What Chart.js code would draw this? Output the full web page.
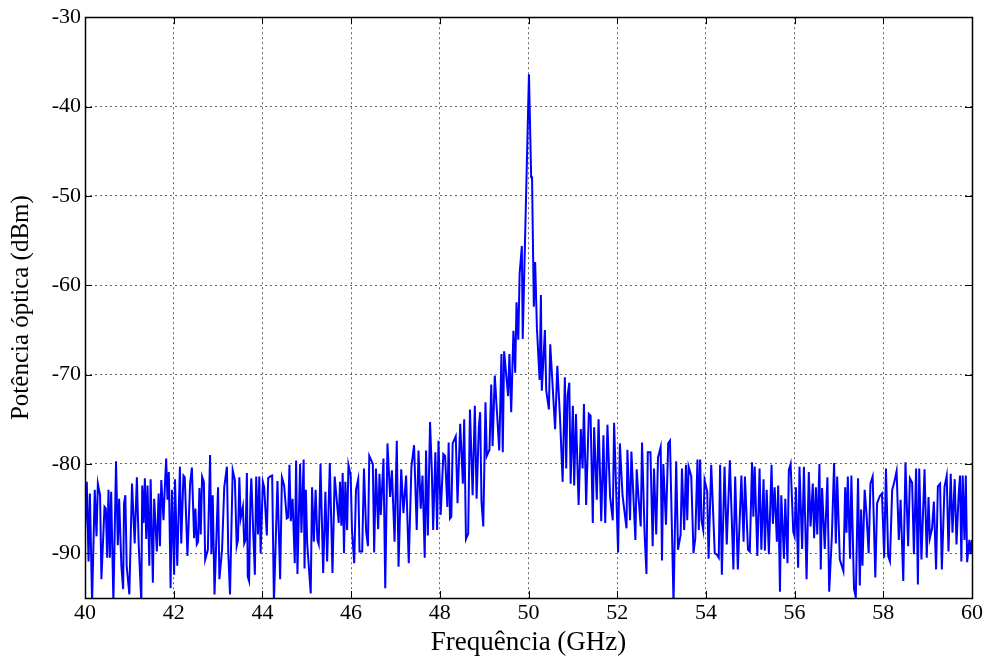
<!DOCTYPE html>
<html>
<head>
<meta charset="utf-8">
<script src="https://cdn.jsdelivr.net/npm/chart.js@4.4.1/dist/chart.umd.min.js"></script>
<style>
  html, body { margin: 0; padding: 0; background: #ffffff; }
  #wrap { width: 991px; height: 659px; position: relative; }
</style>
</head>
<body>
<div id="wrap"><canvas id="c" width="991" height="659"></canvas></div>
<script>
// ---- Data ----
const freqGHz = [
40.00,40.04,40.08,40.11,40.16,40.22,40.26,40.29,40.34,40.37,40.44,40.47,40.50,40.53,40.56,40.59,40.64,40.70,40.74,40.77,
40.82,40.86,40.88,40.91,40.94,41.00,41.06,41.12,41.17,41.21,41.27,41.29,41.32,41.35,41.38,41.41,41.45,41.48,41.53,41.56,
41.62,41.66,41.69,41.72,41.77,41.80,41.83,41.86,41.89,41.93,41.96,42.01,42.03,42.08,42.14,42.17,42.22,42.25,42.28,42.31,
42.37,42.41,42.46,42.49,42.52,42.55,42.58,42.61,42.64,42.68,42.71,42.77,42.82,42.85,42.88,42.92,43.00,43.03,43.09,43.14,
43.20,43.23,43.27,43.33,43.38,43.42,43.45,43.48,43.51,43.56,43.59,43.62,43.65,43.67,43.70,43.73,43.75,43.80,43.83,43.86,
43.90,43.93,43.96,44.01,
44.04,44.10,44.13,44.17,44.22,44.26,44.34,44.40,44.44,44.49,44.55,44.58,44.61,44.64,44.68,44.73,44.76,44.79,44.85,44.88,
44.91,44.93,44.95,44.98,45.01,45.09,45.12,45.16,45.20,45.24,45.27,45.31,45.37,45.42,45.46,45.52,45.58,45.63,45.67,45.72,
45.75,45.78,45.81,45.84,45.87,45.91,45.94,45.99,46.02,46.07,46.11,46.16,46.19,46.25,46.29,46.34,46.38,46.41,46.49,46.52,
46.56,46.61,46.64,46.67,46.73,46.77,46.82,46.88,46.92,46.98,47.03,47.07,47.13,47.18,47.24,47.30,47.36,47.42,47.48,47.52,
47.57,47.61,47.66,47.69,47.73,47.78,47.82,47.85,47.90,47.94,47.97,48.02,
48.08,48.12,48.17,48.20,48.23,48.26,48.29,48.36,48.40,48.46,48.52,48.55,48.59,48.64,48.68,48.74,48.79,48.83,48.88,48.91,
48.94,48.98,49.03,49.06,49.12,49.16,49.19,49.24,49.30,49.34,49.39,49.42,49.45,49.49,49.54,49.57,49.61,49.66,49.70,49.73,
49.77,49.80,49.85,49.87,50.01,50.06,50.08,50.12,50.15,50.19,50.25,50.28,50.30,50.37,50.40,50.46,50.49,50.55,50.60,50.65,
50.71,50.77,50.82,50.85,50.88,50.92,50.95,51.00,51.03,51.07,51.13,51.18,51.22,51.25,51.30,51.36,51.40,51.45,51.48,51.54,
51.58,51.64,51.69,51.73,51.78,51.84,51.90,51.93,52.02,52.06,
52.12,52.21,52.23,52.29,52.32,52.41,52.44,52.48,52.53,52.56,52.62,52.66,52.69,52.75,52.80,52.83,52.88,52.92,52.98,53.01,
53.04,53.10,53.15,53.19,53.27,53.33,53.37,53.43,53.46,53.51,53.55,53.58,53.61,53.67,53.72,53.76,53.81,53.84,53.87,53.90,
53.94,53.97,54.03,54.06,54.12,54.20,54.24,54.29,54.32,54.36,54.42,54.47,54.54,54.62,54.66,54.72,54.80,54.85,54.88,54.95,
54.99,55.04,55.07,55.10,55.16,55.21,55.25,55.30,55.33,55.37,55.42,55.48,55.51,55.55,55.60,55.63,55.67,55.70,55.76,55.79,
55.84,55.87,55.91,55.97,56.00,56.03,
56.08,56.11,56.17,56.21,56.27,56.32,56.36,56.41,56.44,56.48,56.51,56.56,56.59,56.62,56.68,56.74,56.78,56.84,56.89,56.93,
56.96,57.02,57.10,57.14,57.17,57.20,57.25,57.28,57.34,57.38,57.43,57.47,57.50,57.53,57.58,57.62,57.67,57.71,57.76,57.82,
57.86,57.92,57.97,58.02,58.06,58.11,58.15,58.20,58.24,58.30,58.35,58.39,58.45,58.50,58.56,58.60,58.65,58.69,58.74,58.78,
58.81,58.86,58.93,58.98,59.02,59.05,59.10,59.14,59.19,59.23,59.28,59.32,59.38,59.43,59.47,59.52,59.56,59.61,59.65,59.70,
59.73,59.76,59.79,59.83,59.86,59.89,59.94,59.97,60.00
];

const powerDbm = [
-87.6,-82.0,-90.9,-83.3,-95.5,-82.9,-88.1,-82.2,-83.5,-92.9,-84.8,-85.0,-90.5,-82.9,-90.5,-83.1,-95.5,-79.7,-89.1,-83.9,
-91.4,-94.0,-84.4,-83.5,-91.4,-94.6,-82.2,-88.9,-81.5,-88.9,-95.5,-82.4,-86.6,-81.6,-88.4,-82.4,-91.4,-81.7,-93.3,-83.9,
-89.8,-83.3,-89.2,-81.8,-86.3,-82.6,-79.4,-84.0,-80.9,-93.9,-82.9,-92.4,-81.7,-91.4,-80.3,-88.9,-81.3,-81.5,-85.9,-90.3,
-82.2,-80.4,-88.3,-85.0,-89.0,-88.7,-82.7,-87.9,-81.4,-82.0,-90.7,-89.6,-79.0,-90.1,-83.5,-94.6,-82.6,-92.9,-89.6,-82.6,
-80.3,-89.8,-94.6,-80.7,-81.8,-89.2,-88.5,-81.5,-86.1,-84.8,-88.9,-88.5,-81.0,-92.6,-93.1,-83.9,-81.6,-88.5,-92.4,-81.4,
-87.9,-81.4,-90.0,-82.0,
-82.6,-88.0,-81.6,-81.4,-81.3,-95.5,-81.9,-92.9,-81.5,-82.4,-86.1,-86.0,-80.1,-86.4,-83.9,-91.1,-79.6,-92.3,-80.0,-87.7,
-82.9,-79.5,-91.7,-82.9,-88.9,-94.5,-82.6,-88.7,-82.9,-88.5,-89.0,-80.0,-92.2,-83.1,-90.9,-79.9,-92.2,-81.4,-83.7,-86.6,
-82.0,-86.9,-81.0,-90.0,-82.0,-87.4,-80.1,-81.3,-87.4,-91.1,-82.9,-81.7,-89.8,-89.8,-80.5,-87.6,-89.2,-79.1,-80.0,-89.9,
-80.5,-87.3,-81.1,-85.7,-79.4,-93.9,-77.7,-83.7,-80.7,-88.7,-77.4,-91.5,-80.6,-85.5,-81.3,-91.1,-80.3,-77.9,-87.4,-78.5,
-85.0,-81.3,-90.5,-78.5,-88.0,-75.3,-80.7,-87.4,-78.7,-87.4,-77.4,-85.7,
-78.9,-79.1,-84.8,-77.6,-86.1,-85.9,-77.7,-76.9,-84.4,-75.5,-82.2,-75.0,-88.4,-87.8,-73.9,-83.5,-73.5,-83.9,-75.9,-74.2,
-84.2,-87.0,-73.1,-79.1,-78.4,-71.1,-78.0,-70.1,-75.1,-78.5,-67.7,-78.7,-67.4,-69.6,-72.4,-67.7,-74.2,-65.1,-69.8,-61.9,
-66.1,-58.7,-55.6,-66.0,-36.4,-47.9,-47.9,-62.4,-57.4,-64.8,-70.6,-61.1,-71.8,-65.0,-71.8,-73.9,-66.6,-71.8,-76.1,-69.0,
-74.8,-82.0,-70.3,-80.5,-72.4,-70.9,-82.2,-73.5,-82.4,-74.4,-84.6,-76.1,-80.5,-73.3,-84.6,-74.4,-74.6,-86.6,-75.9,-84.0,
-75.0,-86.4,-76.8,-86.6,-75.6,-83.7,-86.3,-75.4,-89.9,-77.7,
-83.5,-87.2,-78.4,-86.3,-78.6,-88.5,-80.6,-83.7,-87.0,-77.6,-88.1,-92.3,-78.7,-78.7,-89.2,-80.5,-87.9,-79.3,-78.1,-90.8,
-80.0,-86.8,-77.7,-77.4,-95.5,-79.7,-89.6,-87.9,-80.5,-87.4,-80.1,-86.3,-80.3,-81.4,-90.0,-88.3,-79.5,-87.4,-79.5,-86.3,
-87.4,-81.8,-83.1,-90.6,-80.1,-90.0,-90.1,-90.5,-80.1,-92.4,-80.3,-89.0,-79.6,-91.8,-81.4,-91.8,-81.3,-88.7,-81.4,-89.6,
-89.8,-79.8,-85.9,-80.3,-90.3,-80.5,-89.6,-81.7,-89.7,-82.9,-90.1,-80.1,-86.7,-82.6,-88.7,-82.4,-94.3,-83.5,-90.6,-83.9,
-91.1,-80.7,-80.0,-87.6,-88.1,-82.6,
-91.6,-80.3,-89.5,-80.3,-92.9,-80.9,-87.0,-82.2,-88.3,-82.6,-87.9,-80.0,-91.8,-82.7,-89.5,-81.5,-94.3,-88.1,-79.9,-88.9,
-81.4,-90.7,-92.0,-82.6,-87.7,-81.4,-90.6,-81.3,-94.0,-94.9,-81.6,-93.6,-85.1,-91.4,-82.9,-85.5,-90.0,-82.2,-81.4,-92.7,
-84.4,-83.6,-83.3,-90.5,-80.5,-90.3,-90.9,-82.9,-82.2,-80.8,-88.5,-84.0,-93.1,-79.8,-89.2,-81.6,-82.1,-90.1,-80.5,-93.5,
-80.5,-90.7,-80.6,-90.5,-83.7,-88.3,-87.2,-84.2,-91.8,-82.5,-82.2,-91.8,-82.6,-81.3,-89.8,-81.1,-87.7,-81.7,-89.0,-83.3,
-81.3,-90.9,-81.3,-88.5,-81.3,-91.0,-88.5,-90.1,-88.5
];

const xTitle = 'Frequência (GHz)';
const yTitle = 'Potência óptica (dBm)';
const xRange = [40, 60];
const yRange = [-95, -30];
const xStep = 2;
const yStep = 10;

const points = freqGHz.map((f, i) => ({ x: f, y: powerDbm[i] }));

const FONT = "'Liberation Serif', 'Times New Roman', serif";

const framePlugin = {
  id: 'frame',
  afterDraw(chart) {
    const { ctx, chartArea: a, scales } = chart;
    const xs = scales.x, ys = scales.y;
    const L = 7;
    ctx.save();
    ctx.setLineDash([]);
    ctx.strokeStyle = '#000';
    ctx.lineWidth = 1;
    ctx.beginPath();
    xs.ticks.forEach(t => {
      const p = Math.round(xs.getPixelForValue(t.value)) + 0.5;
      ctx.moveTo(p, a.bottom); ctx.lineTo(p, a.bottom - L);
      ctx.moveTo(p, a.top); ctx.lineTo(p, a.top + L);
    });
    ys.ticks.forEach(t => {
      const p = Math.round(ys.getPixelForValue(t.value)) + 0.5;
      ctx.moveTo(a.left, p); ctx.lineTo(a.left + L, p);
      ctx.moveTo(a.right, p); ctx.lineTo(a.right - L, p);
    });
    ctx.stroke();
    ctx.lineWidth = 1.5;
    ctx.strokeRect(Math.round(a.left) + 0.5, Math.round(a.top) + 0.5,
                   Math.round(a.right - a.left), Math.round(a.bottom - a.top));
    ctx.restore();
  }
};

new Chart(document.getElementById('c'), {
  type: 'line',
  data: {
    datasets: [{
      data: points,
      borderColor: '#0000ff',
      borderWidth: 2,
      pointRadius: 0,
      tension: 0,
      fill: false
    }]
  },
  options: {
    responsive: false,
    animation: false,
    devicePixelRatio: 1,
    parsing: false,
    normalized: true,
    plugins: { legend: { display: false }, tooltip: { enabled: false } },
    layout: { padding: { top: 14, right: 19, left: 0, bottom: 0 } },
    scales: {
      x: {
        type: 'linear',
        min: xRange[0], max: xRange[1],
        afterFit: s => { s.height = 61; },
        ticks: { stepSize: xStep, color: '#000', padding: 2, maxRotation: 0,
                 font: { family: FONT, size: 22 } },
        grid: { color: 'rgba(0,0,0,0.6)', lineWidth: 1, drawTicks: false },
        border: { display: false, dash: [2, 3] },
        title: { display: true, text: xTitle, color: '#000',
                 font: { family: FONT, size: 27 }, padding: { top: 0, bottom: 0 } }
      },
      y: {
        type: 'linear',
        min: yRange[0], max: yRange[1],
        afterFit: s => { s.width = 85; },
        ticks: { stepSize: yStep, includeBounds: false, color: '#000', padding: 4,
                 font: { family: FONT, size: 22 } },
        grid: { color: 'rgba(0,0,0,0.6)', lineWidth: 1, drawTicks: false },
        border: { display: false, dash: [2, 3] },
        title: { display: true, text: yTitle, color: '#000',
                 font: { family: FONT, size: 25 }, padding: { top: 6, bottom: 0 } }
      }
    }
  },
  plugins: [framePlugin]
});
</script>
</body>
</html>
